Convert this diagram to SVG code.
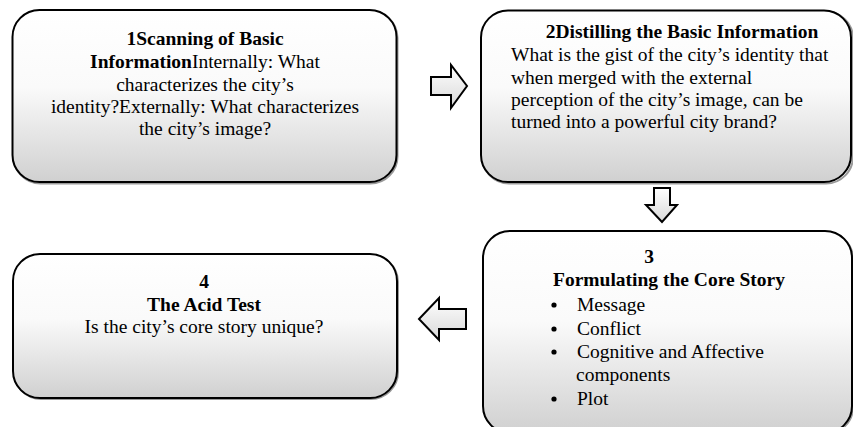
<svg xmlns="http://www.w3.org/2000/svg" width="853" height="427" viewBox="0 0 853 427">
<defs>
<linearGradient id="g" x1="0" y1="0" x2="0" y2="1">
<stop offset="0" stop-color="#ffffff"/>
<stop offset="0.45" stop-color="#fafafa"/>
<stop offset="1" stop-color="#d0d0d0"/>
</linearGradient>
<linearGradient id="ga" x1="0" y1="0" x2="0" y2="1">
<stop offset="0" stop-color="#ffffff"/>
<stop offset="1" stop-color="#d8d8d8"/>
</linearGradient>
</defs>
<style>
.box{fill:url(#g);stroke:#000;stroke-width:2}
.sh{fill:none;stroke:#9a9a9a;stroke-width:2}
.arr{fill:url(#ga);stroke:#000;stroke-width:2;stroke-linejoin:miter}
text{font-family:"Liberation Serif","Times New Roman",serif;font-size:19.5px;fill:#000}
.b{font-weight:bold}
.c{text-anchor:middle}
</style>
<rect width="853" height="427" fill="#fff"/>
<g id="connectors">
<polygon class="arr" points="431,77 451,77 451,65 467,86 451,108 451,95 431,95"/>
<polygon class="arr" points="654,188 670,188 670,205 677,205 662,222 646,205 654,205"/>
<polygon class="arr" points="466,309 439,309 439,298 419,319 439,340 439,329 466,329"/>
</g>
<g id="node1">
<rect class="sh" x="13.5" y="11" width="384" height="172.5" rx="27"/>
<rect class="box" x="12.5" y="10" width="384" height="172" rx="27"/>
<text class="c" x="205" y="45"><tspan class="b">1Scanning of Basic</tspan></text>
<text class="c" x="205" y="68"><tspan class="b">Information</tspan>Internally: What</text>
<text class="c" x="205" y="91">characterizes the city’s</text>
<text class="c" x="205" y="113">identity?Externally: What characterizes</text>
<text class="c" x="205" y="135">the city’s image?</text>
</g>
<g id="node2">
<rect class="sh" x="482" y="11.5" width="371" height="172" rx="27"/>
<rect class="box" x="481" y="10.5" width="370" height="171.5" rx="27"/>
<text class="c b" x="682" y="38">2Distilling the Basic Information</text>
<text x="511" y="61">What is the gist of the city’s identity that</text>
<text x="511" y="84">when merged with the external</text>
<text x="511" y="106">perception of the city’s image, can be</text>
<text x="511" y="128">turned into a powerful city brand?</text>
</g>
<g id="node3">
<rect class="sh" x="484" y="232" width="369" height="202" rx="27"/>
<rect class="box" x="483" y="231" width="369" height="202" rx="27"/>
<text class="c b" x="649" y="263">3</text>
<text class="c b" x="669" y="286">Formulating the Core Story</text>
<circle cx="554" cy="305" r="2.6"/>
<text x="577" y="311">Message</text>
<circle cx="554" cy="329" r="2.6"/>
<text x="577" y="335">Conflict</text>
<circle cx="554" cy="352" r="2.6"/>
<text x="577" y="358">Cognitive and Affective</text>
<text x="576" y="381">components</text>
<circle cx="554" cy="399" r="2.6"/>
<text x="577" y="405">Plot</text>
</g>
<g id="node4">
<rect class="sh" x="14" y="255" width="384" height="144" rx="27"/>
<rect class="box" x="13" y="254" width="384" height="144" rx="27"/>
<text class="c b" x="204" y="288">4</text>
<text class="c b" x="204" y="311">The Acid Test</text>
<text class="c" x="204" y="333">Is the city’s core story unique?</text>
</g>
</svg>
